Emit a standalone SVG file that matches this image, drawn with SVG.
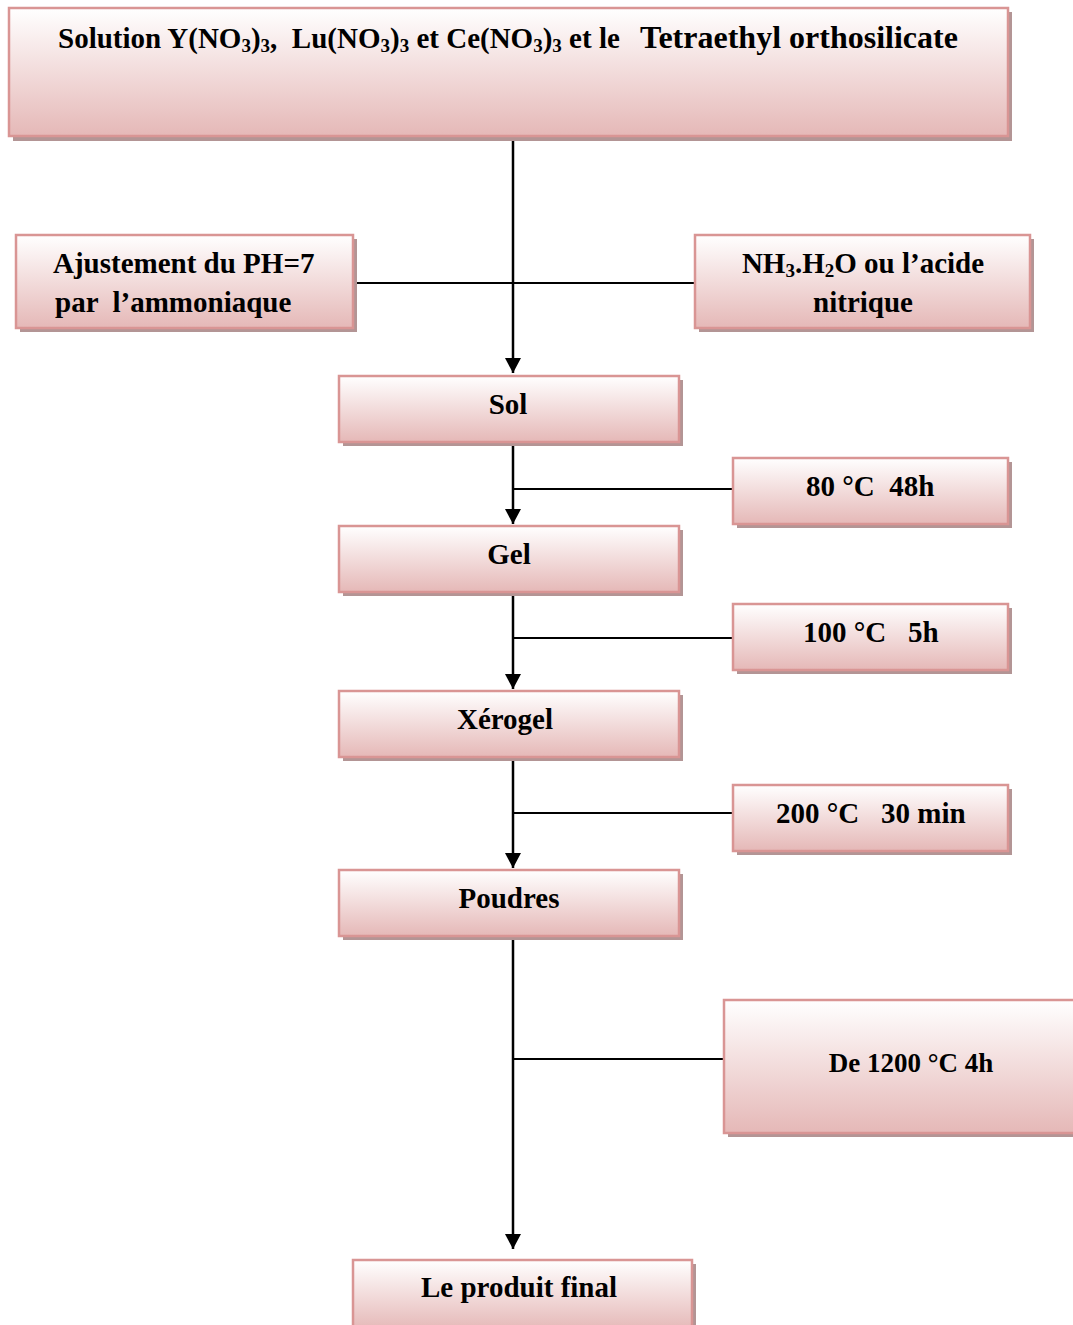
<svg xmlns="http://www.w3.org/2000/svg" width="1073" height="1325" viewBox="0 0 1073 1325">
<defs>
<linearGradient id="g" x1="0" y1="0" x2="0" y2="1">
<stop offset="0" stop-color="#ffffff"/>
<stop offset="1" stop-color="#e5b8b7"/>
</linearGradient>
<marker id="ah" viewBox="0 0 15 16" refX="15" refY="8" markerWidth="15" markerHeight="16" markerUnits="userSpaceOnUse" orient="auto">
<path d="M0,0 L15,8 L0,16 Z" fill="#000"/>
</marker>
</defs>
<style>
.sh{fill:#b39595}
.bx{fill:url(#g);stroke:#d99594;stroke-width:2.5}
.t{font-family:"Liberation Serif","Times New Roman",serif;font-weight:bold;font-size:29px;fill:#000}
.s{font-size:19px}
.ln{stroke:#000;stroke-width:2;fill:none}
.ar{stroke:#000;stroke-width:2.5;fill:none}
</style>
<g id="connectors">
<path class="ar" d="M513,136 V373" marker-end="url(#ah)"/>
<path class="ln" d="M353,283 H695"/>
<path class="ar" d="M513,442 V524" marker-end="url(#ah)"/>
<path class="ln" d="M513,489 H733"/>
<path class="ar" d="M513,592 V689" marker-end="url(#ah)"/>
<path class="ln" d="M513,638 H733"/>
<path class="ar" d="M513,757 V868" marker-end="url(#ah)"/>
<path class="ln" d="M513,813 H733"/>
<path class="ar" d="M513,936 V1249" marker-end="url(#ah)"/>
<path class="ln" d="M513,1059 H724"/>
</g>
<g id="n-solution">
<rect class="sh" x="13" y="12" width="999" height="129"/>
<rect class="bx" x="9" y="8" width="999" height="128"/>
<text class="t" x="58" y="48" xml:space="preserve">Solution Y(NO<tspan class="s" dy="4">3</tspan><tspan dy="-4">)</tspan><tspan class="s" dy="4">3</tspan><tspan dy="-4">,  Lu(NO</tspan><tspan class="s" dy="4">3</tspan><tspan dy="-4">)</tspan><tspan class="s" dy="4">3</tspan><tspan dy="-4"> et Ce(NO</tspan><tspan class="s" dy="4">3</tspan><tspan dy="-4">)</tspan><tspan class="s" dy="4">3</tspan><tspan dy="-4"> et le  </tspan><tspan x="640" style="font-size:32px">Tetraethyl orthosilicate</tspan></text>
</g>
<g id="n-ajustement">
<rect class="sh" x="20" y="239" width="337" height="93"/>
<rect class="bx" x="16" y="235" width="337" height="93"/>
<text class="t" x="53" y="273" xml:space="preserve">Ajustement du PH=7</text>
<text class="t" x="55" y="312" xml:space="preserve">par  l’ammoniaque</text>
</g>
<g id="n-nh3">
<rect class="sh" x="699" y="239" width="335" height="93"/>
<rect class="bx" x="695" y="235" width="335" height="93"/>
<text class="t" x="863" y="273" text-anchor="middle">NH<tspan class="s" dy="4">3</tspan><tspan dy="-4">.H</tspan><tspan class="s" dy="4">2</tspan><tspan dy="-4">O ou l’acide</tspan></text>
<text class="t" x="863" y="312" text-anchor="middle">nitrique</text>
</g>
<g id="n-sol">
<rect class="sh" x="343" y="380" width="340" height="66"/>
<rect class="bx" x="339" y="376" width="340" height="66"/>
<text class="t" x="508" y="414" text-anchor="middle">Sol</text>
</g>
<g id="n-80">
<rect class="sh" x="737" y="462" width="275" height="66"/>
<rect class="bx" x="733" y="458" width="275" height="66"/>
<text class="t" x="806" y="496" xml:space="preserve">80 °C  48h</text>
</g>
<g id="n-gel">
<rect class="sh" x="343" y="530" width="340" height="66"/>
<rect class="bx" x="339" y="526" width="340" height="66"/>
<text class="t" x="509" y="564" text-anchor="middle">Gel</text>
</g>
<g id="n-100">
<rect class="sh" x="737" y="608" width="275" height="66"/>
<rect class="bx" x="733" y="604" width="275" height="66"/>
<text class="t" x="803" y="642" xml:space="preserve">100 °C   5h</text>
</g>
<g id="n-xerogel">
<rect class="sh" x="343" y="695" width="340" height="66"/>
<rect class="bx" x="339" y="691" width="340" height="66"/>
<text class="t" x="505" y="729" text-anchor="middle">Xérogel</text>
</g>
<g id="n-200">
<rect class="sh" x="737" y="789" width="275" height="66"/>
<rect class="bx" x="733" y="785" width="275" height="66"/>
<text class="t" x="776" y="823" xml:space="preserve">200 °C   30 min</text>
</g>
<g id="n-poudres">
<rect class="sh" x="343" y="874" width="340" height="66"/>
<rect class="bx" x="339" y="870" width="340" height="66"/>
<text class="t" x="509" y="908" text-anchor="middle">Poudres</text>
</g>
<g id="n-1200">
<rect class="sh" x="728" y="1004" width="350" height="133"/>
<rect class="bx" x="724" y="1000" width="352" height="133"/>
<text class="t" x="911" y="1072" text-anchor="middle" style="font-size:27px">De 1200 °C 4h</text>
</g>
<g id="n-final">
<rect class="sh" x="357" y="1264" width="339" height="70"/>
<rect class="bx" x="353" y="1260" width="339" height="70"/>
<text class="t" x="519" y="1297" text-anchor="middle">Le produit final</text>
</g>
</svg>
